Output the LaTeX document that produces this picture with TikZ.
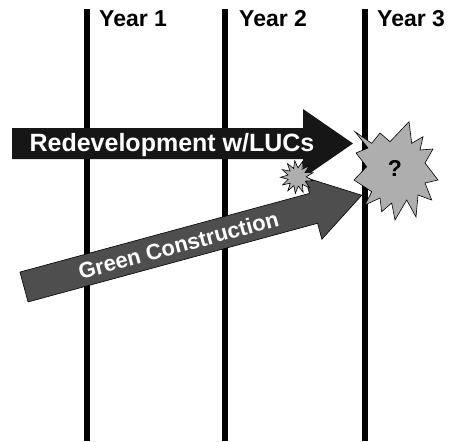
\documentclass[tikz,border=0pt]{standalone}
\usepackage{fontspec}
\setmainfont{Liberation Sans}
\usetikzlibrary{shapes.geometric}
\definecolor{burst}{HTML}{AEAEAE}
\definecolor{greenarrow}{HTML}{4E4E4E}
\definecolor{redevarrow}{HTML}{161616}
\tikzset{
  yearline/.style={line width=5.5pt, black},
  yearlabel/.style={anchor=base west, inner sep=0pt, font=\fontsize{23}{23}\selectfont\bfseries},
  arrowtext/.style={text=white, inner sep=0pt, font=\fontsize{#1}{#1}\selectfont\bfseries},
  burstshape/.style={fill=burst, draw=black, line width=0.6pt, line join=miter},
}
\begin{document}
\begin{tikzpicture}[x=1pt, y=-1pt]
  \useasboundingbox[fill=white] (0,0) rectangle (457,441);

  % year dividers
  \foreach \name/\xx in {one/87, two/225, three/365} {
    \coordinate (\name top) at (\xx,9);
    \coordinate (\name bot) at (\xx,441);
    \draw[yearline] (\name top) -- (\name bot);
  }
  \node[yearlabel] (y1) at (99,27) {Year 1};
  \node[yearlabel] (y2) at (239,27) {Year 2};
  \node[yearlabel] (y3) at (377,27) {Year 3};

  % redevelopment arrow
  \fill[redevarrow] (12,128) -- (303,128) -- (303,109) -- (353,143.5)
    -- (303,178) -- (303,159) -- (12,159) -- cycle;
  \node[arrowtext=25] (redev) at (172,145) {Redevelopment w/LUCs};

  % green construction arrow, drawn along its own axis
  \begin{scope}[shift={(24,287)}, rotate=15.2]
    \filldraw[fill=greenarrow, draw=black, line width=0.6pt]
      (0,-15.5) -- (300,-15.5) -- (300,-32) -- (350,0)
      -- (300,32) -- (300,15.5) -- (0,15.5) -- cycle;
    \node[arrowtext=22, rotate=15.2] (green) at (160,0) {Green Construction};
  \end{scope}

  % small burst where the arrows meet
  \node[star, star points=13, star point ratio=1.8, minimum size=33pt,
        inner sep=0pt, burstshape, rotate=8] (spark) at (297,177) {};

  % large burst with the question mark
  \draw[burstshape]
    (355,131.7) -- (371.7,143.3) -- (380,133) -- (390,141.7) -- (409,121.7)
    -- (411.7,143.3) -- (423,136.7) -- (420,150) -- (433,149) -- (425,163)
    -- (438,180) -- (425,183) -- (431.7,200) -- (418,195) -- (416,217)
    -- (406.7,200) -- (395,220) -- (391.7,203) -- (381.7,211.7) -- (380,198)
    -- (365,205) -- (371.7,191.7) -- (354,180) -- (366.7,166.7)
    -- (356,153) -- (368,148) -- cycle;
  \node[inner sep=0pt, font=\fontsize{23}{23}\selectfont\bfseries] (q) at (395,168) {?};
\end{tikzpicture}
\end{document}
